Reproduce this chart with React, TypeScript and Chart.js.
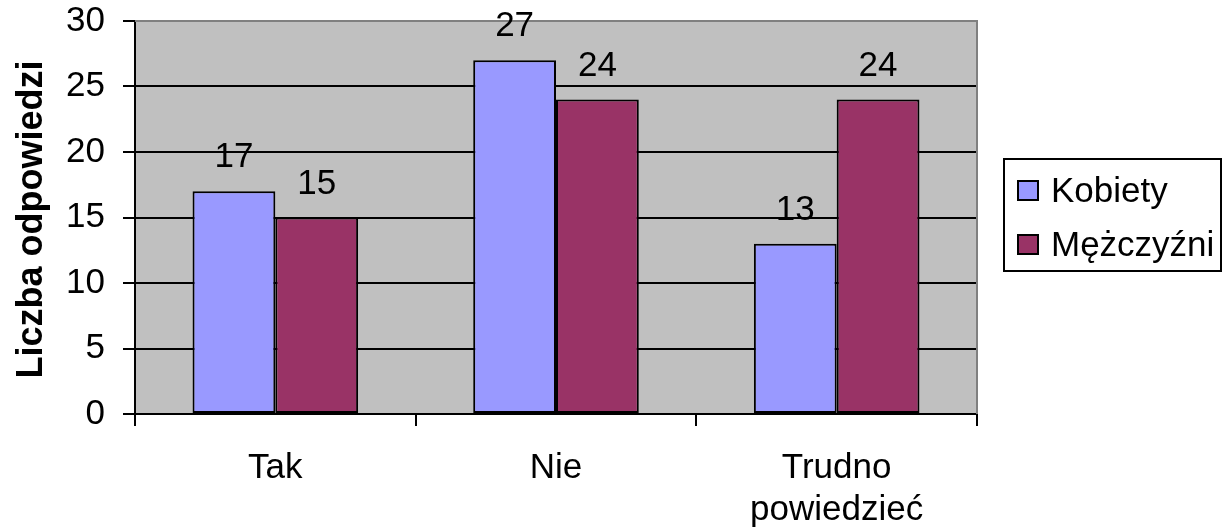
import React, { useEffect, useRef } from "react";
import { Chart, registerables } from "chart.js";

Chart.register(...registerables);

const categories: (string | string[])[] = ["Tak", "Nie", ["Trudno", "powiedzieć"]];
const kobiety = [17, 27, 13];
const mezczyzni = [15, 24, 24];
const seriesNames = ["Kobiety", "Mężczyźni"];
const seriesColors = ["#9999FF", "#993366"];
const yTitle = "Liczba odpowiedzi";

const FONT = "'Liberation Sans', Arial, sans-serif";

const bgPlugin = {
  id: "plotBg",
  beforeDraw(chart: any) {
    const { ctx, chartArea: a } = chart;
    ctx.save();
    ctx.fillStyle = "#C0C0C0";
    ctx.fillRect(a.left, a.top, a.right - a.left, a.bottom - a.top);
    ctx.restore();
  },
  afterDatasetsDraw(chart: any) {
    const { ctx, chartArea: a } = chart;
    ctx.save();
    // gray top/right border
    ctx.strokeStyle = "#808080";
    ctx.lineWidth = 2;
    ctx.beginPath();
    ctx.moveTo(a.left, a.top);
    ctx.lineTo(a.right, a.top);
    ctx.lineTo(a.right, a.bottom);
    ctx.stroke();
    // data labels
    ctx.fillStyle = "#000";
    ctx.font = `35px ${FONT}`;
    ctx.textAlign = "center";
    ctx.textBaseline = "alphabetic";
    chart.data.datasets.forEach((ds: any, i: number) => {
      const meta = chart.getDatasetMeta(i);
      meta.data.forEach((el: any, j: number) => {
        ctx.fillText(String(ds.data[j]), el.x, el.y - 24);
      });
    });
    // y title
    ctx.save();
    ctx.translate(42, (a.top + a.bottom) / 2 + 2);
    ctx.rotate(-Math.PI / 2);
    ctx.font = `bold 36px ${FONT}`;
    ctx.textAlign = "center";
    ctx.textBaseline = "alphabetic";
    ctx.fillText(yTitle, 0, 0);
    ctx.restore();
    // legend
    ctx.strokeStyle = "#000";
    ctx.lineWidth = 2;
    ctx.strokeRect(1004, 159, 217, 112);
    const rows = [191, 245];
    seriesNames.forEach((name, i) => {
      const cy = rows[i];
      ctx.fillStyle = seriesColors[i];
      ctx.fillRect(1018, cy - 10, 20, 19);
      ctx.lineWidth = 2;
      ctx.strokeStyle = "#000";
      ctx.strokeRect(1018, cy - 10, 20, 19);
      ctx.fillStyle = "#000";
      ctx.font = `35px ${FONT}`;
      ctx.textAlign = "left";
      ctx.textBaseline = "middle";
      ctx.fillText(name, 1051, cy + 1);
    });
    ctx.restore();
  },
};

export default function App() {
  const ref = useRef<HTMLCanvasElement | null>(null);
  useEffect(() => {
    if (!ref.current) return;
    const chart = new Chart(ref.current, {
      type: "bar",
      data: {
        labels: categories,
        datasets: [
          {
            label: seriesNames[0],
            data: kobiety,
            backgroundColor: seriesColors[0],
            borderColor: "#000",
            borderWidth: 2,
            borderSkipped: false,
          },
          {
            label: seriesNames[1],
            data: mezczyzni,
            backgroundColor: seriesColors[1],
            borderColor: "#000",
            borderWidth: 2,
            borderSkipped: false,
          },
        ],
      },
      options: {
        responsive: false,
        animation: false,
        layout: { padding: { left: 0, top: 21, right: 252, bottom: 0 } },
        datasets: { bar: { categoryPercentage: 0.59, barPercentage: 1 } },
        plugins: { legend: { display: false }, tooltip: { enabled: false } },
        scales: {
          x: {
            afterFit: (s: any) => {
              s.height = 116;
              s.paddingLeft = 0;
              s.paddingRight = 0;
            },
            grid: {
              offset: true,
              drawOnChartArea: false,
              drawTicks: true,
              tickLength: 12,
              color: "#000",
              lineWidth: 2,
            },
            border: { color: "#000", width: 2 },
            ticks: {
              color: "#000",
              font: { family: FONT, size: 35, lineHeight: 1.2 },
              padding: 21,
              maxRotation: 0,
              autoSkip: false,
            },
          },
          y: {
            min: 0,
            max: 30,
            afterFit: (s: any) => {
              s.width = 135;
              s.paddingTop = 0;
              s.paddingBottom = 0;
            },
            grid: {
              color: "#000",
              lineWidth: 2,
              drawTicks: true,
              tickLength: 12,
            },
            border: { color: "#000", width: 2 },
            ticks: {
              stepSize: 5,
              color: "#000",
              font: { family: FONT, size: 35 },
              padding: 18,
            },
          },
        },
      },
      plugins: [bgPlugin],
    });
    return () => chart.destroy();
  }, []);
  return (
    <div style={{ position: "absolute", left: 0, top: 0, width: 1229, height: 530, background: "#fff" }}>
      <canvas ref={ref} width={1229} height={530} style={{ display: "block" }} />
    </div>
  );
}
